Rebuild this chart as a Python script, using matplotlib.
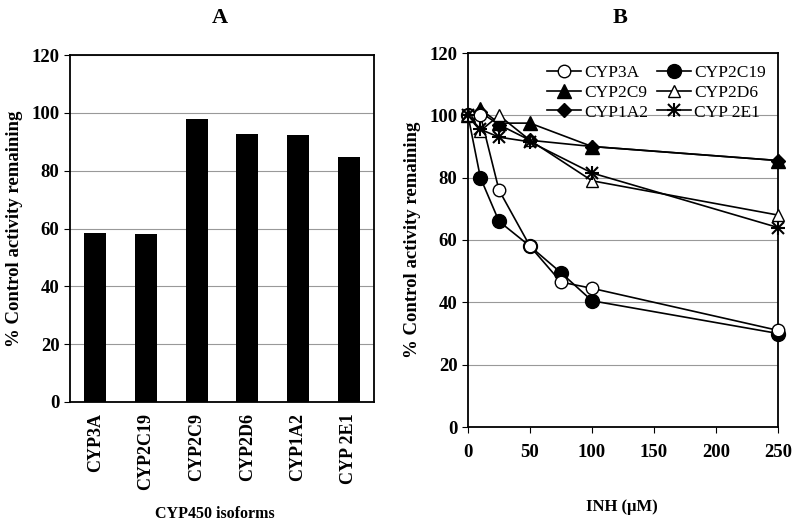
import numpy as np
import matplotlib.pyplot as plt

plt.rcParams['font.family'] = ['Liberation Serif', 'DejaVu Serif']
plt.rcParams['font.weight'] = 'bold'

# Panel A data
isoforms = ["CYP3A", "CYP2C19", "CYP2C9", "CYP2D6", "CYP1A2", "CYP 2E1"]
remaining = [58.5, 58.2, 98.0, 92.8, 92.3, 84.8]

# Panel B data
inh = [0, 10, 25, 50, 75, 100, 250]
cyp3a = [100, 100, 76, 58, 46.5, 44.5, 31]
cyp2c19 = [100, 80, 66, 58, 49.5, 40.5, 30]
inh_b = [0, 10, 25, 50, 100, 250]
cyp2c9 = [100, 102, 97.5, 97.5, 90, 85.5]
cyp2d6 = [100, 95, 100, 92, 79, 68]
cyp1a2 = [100, 101, 97, 92, 90, 85.5]
cyp2e1 = [100, 95.5, 93, 91.5, 81.5, 64]

fig = plt.figure(figsize=(7.97, 5.28), dpi=100)

# ---- Panel A ----
axA = fig.add_axes([70/797, 1-402/528, 304/797, 347/528])
x = np.arange(len(isoforms))
axA.bar(x, remaining, width=0.44, color="black", zorder=3)
axA.set_xlim(-0.5, 5.5)
axA.set_ylim(0, 120)
axA.set_yticks(range(0, 121, 20))
axA.yaxis.grid(True, color="#999999", linewidth=0.8, zorder=0)
axA.set_xticks(x)
axA.set_xticklabels(isoforms, rotation=90, fontsize=13, fontweight="bold")
axA.tick_params(axis="x", length=0, pad=8)
axA.tick_params(axis="y", labelsize=13.5, length=4, direction="out")
axA.set_ylabel("% Control activity remaining", fontsize=13.5, fontweight="bold", labelpad=6)
for s in axA.spines.values():
    s.set_linewidth(1.3)
fig.text(220/797, 1-18/528, "A", ha="center", va="center", fontsize=16, fontweight="bold")
fig.text(215/797, 1-514/528, "CYP450 isoforms", ha="center", va="center", fontsize=11.5, fontweight="bold")

# ---- Panel B ----
axB = fig.add_axes([468/797, 1-427/528, 310/797, 374/528])
lw = 1.2
kw = dict(color="black", lw=lw, clip_on=False)
h1, = axB.plot(inh, cyp3a, "-o", mfc="white", ms=9, zorder=4, **kw)
h2, = axB.plot(inh, cyp2c19, "-o", mfc="black", ms=10, zorder=3, **kw)
h3, = axB.plot(inh_b, cyp2c9, "-^", mfc="black", ms=10, zorder=3, **kw)
h4, = axB.plot(inh_b, cyp2d6, "-^", mfc="white", ms=9, zorder=4, **kw)
h5, = axB.plot(inh_b, cyp1a2, "-D", mfc="black", ms=7, zorder=3, **kw)
h6, = axB.plot(inh_b, cyp2e1, "-x", ms=9, mew=1.5, zorder=4, **kw)
h6b, = axB.plot(inh_b, cyp2e1, "+", color="black", ms=10, mew=1.5, zorder=4, clip_on=False)
axB.set_xlim(0, 250)
axB.set_ylim(0, 120)
axB.set_xticks(range(0, 251, 50))
axB.set_yticks(range(0, 121, 20))
axB.yaxis.grid(True, color="#999999", linewidth=0.8, zorder=0)
axB.tick_params(labelsize=13.5, length=4, direction="out")
axB.tick_params(axis="x", pad=8)
axB.set_ylabel("% Control activity remaining", fontsize=13.5, fontweight="bold", labelpad=6)
for s in axB.spines.values():
    s.set_linewidth(1.3)
leg = axB.legend([h1, h3, h5, h2, h4, (h6, h6b)],
                 ["CYP3A", "CYP2C9", "CYP1A2", "CYP2C19", "CYP2D6", "CYP 2E1"],
                 ncol=2, loc="upper right", frameon=False,
                 handlelength=2.0, handletextpad=0.15, columnspacing=0.5,
                 labelspacing=0.2, borderaxespad=0.3, prop={"weight": "normal", "size": 12.5})
fig.text(620/797, 1-18/528, "B", ha="center", va="center", fontsize=16, fontweight="bold")
fig.text(622/797, 1-507/528, "INH (\u03bcM)", ha="center", va="center", fontsize=12, fontweight="bold")

fig.savefig("out.png", dpi=100)
